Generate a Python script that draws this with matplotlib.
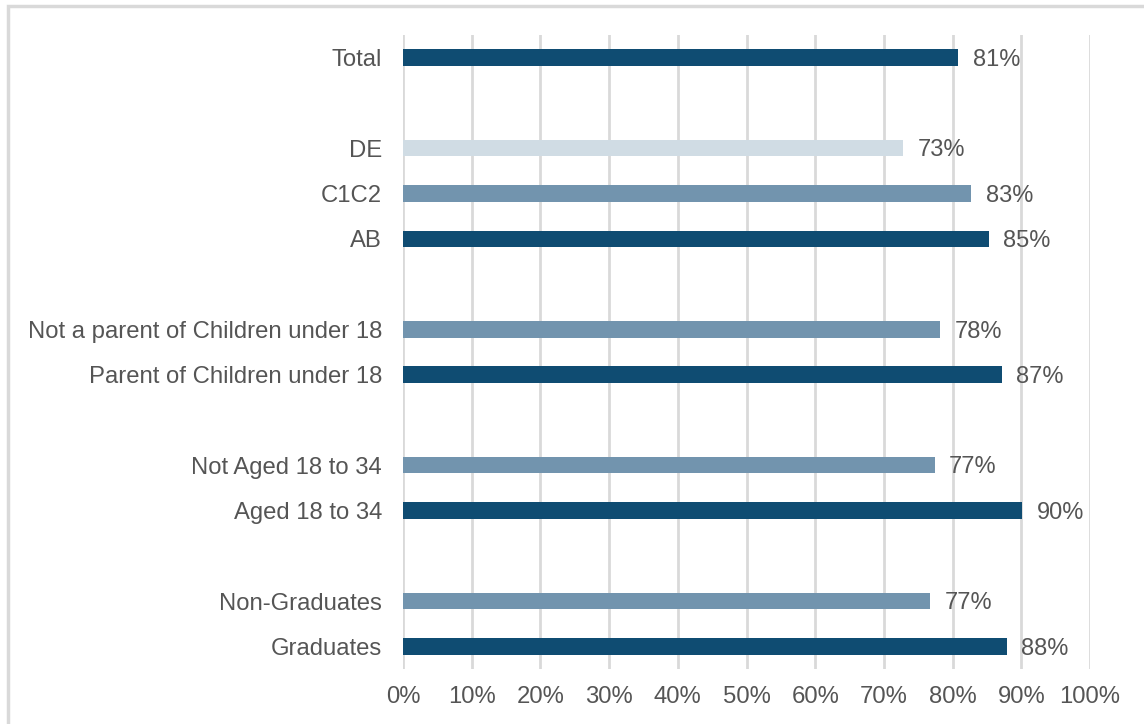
import matplotlib
matplotlib.use("Agg")
import matplotlib.pyplot as plt
from matplotlib.patches import Rectangle

categories = ["Total", "", "DE", "C1C2", "AB", "",
              "Not a parent of Children under 18", "Parent of Children under 18", "",
              "Not Aged 18 to 34", "Aged 18 to 34", "",
              "Non-Graduates", "Graduates"]
values = [81, None, 73, 83, 85, None, 78, 87, None, 77, 90, None, 77, 88]
bar_values = [80.8, None, 72.8, 82.7, 85.3, None, 78.2, 87.2, None, 77.4, 90.1, None, 76.7, 87.9]
shades = ["dark", None, "light", "mid", "dark", None, "mid", "dark", None, "mid", "dark", None, "mid", "dark"]
palette = {"dark": "#0f4c72", "mid": "#7294ae", "light": "#d0dce4"}
x_ticks = [0, 10, 20, 30, 40, 50, 60, 70, 80, 90, 100]
x_ticklabels = [f"{t}%" for t in x_ticks]

plt.rcParams['font.family'] = ['Liberation Sans', 'DejaVu Sans']
text_color = "#555555"

fig = plt.figure(figsize=(11.44, 7.24), dpi=100)
W, H = 1144, 724
ax = fig.add_axes([403 / W, 1 - 669 / H, (1090 - 403) / W, (669 - 35) / H])

ypos = list(range(len(categories)))
for y, v, s in zip(ypos, bar_values, shades):
    if v is None:
        continue
    ax.barh(y, v, height=0.36, color=palette[s], zorder=3)
for y, v, lab in zip(ypos, bar_values, values):
    if v is None:
        continue
    ax.text(v + 2.1, y + 0.05, f"{lab}%", va="center", ha="left",
            fontsize=17, color=text_color)

ax.set_ylim(len(categories) - 0.5, -0.5)
ax.set_xlim(0, 100)
ax.set_yticks(ypos)
ax.set_yticklabels(categories)
ax.set_xticks(x_ticks)
ax.set_xticklabels(x_ticklabels)
ax.tick_params(axis="both", length=0, labelsize=17.2, colors=text_color)
ax.tick_params(axis="y", pad=15)
ax.tick_params(axis="x", pad=12)
ax.grid(axis="x", color="#d9d9d9", linewidth=2, zorder=0)
for sp in ax.spines.values():
    sp.set_visible(False)

# outer frame
fig.patches.append(Rectangle((8 / W, -0.05), 1.2, 1 - 6 / H + 0.05,
                             transform=fig.transFigure, fill=False,
                             edgecolor="#d9d9d9", linewidth=2.5, zorder=0))

fig.savefig("out.png", dpi=100)
